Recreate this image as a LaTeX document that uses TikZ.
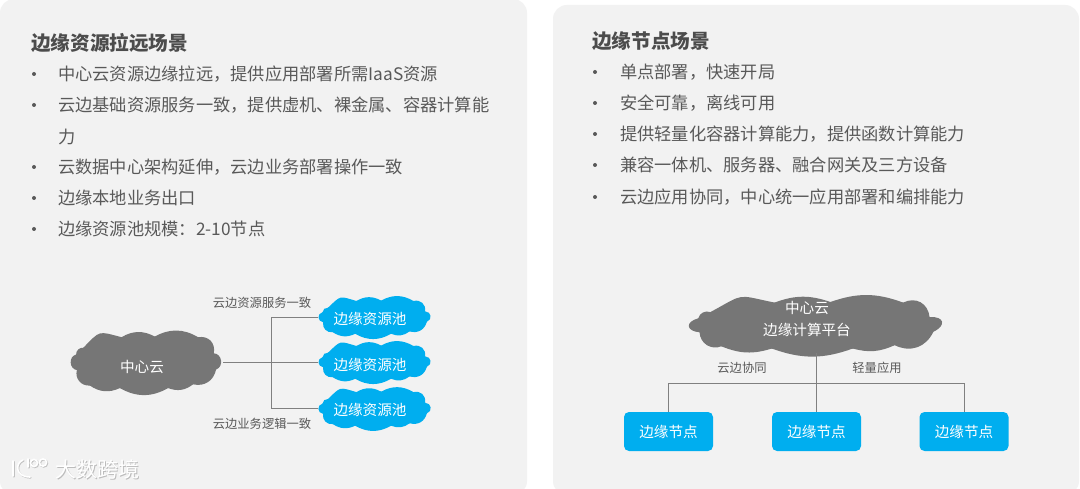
\documentclass[tikz,border=0pt]{standalone}
\usepackage{fontspec}
\setmainfont{Noto Sans CJK SC}
\definecolor{panel}{HTML}{F2F2F2}
\definecolor{bodytext}{HTML}{595959}
\definecolor{cloudgray}{HTML}{767676}
\definecolor{skyb}{HTML}{00AEEF}
\definecolor{wire}{HTML}{808080}
\tikzset{
  x=1pt,y=-1pt,
  panelbox/.style={fill=panel,draw=none,rounded corners=14pt},
  headtext/.style={anchor=west,inner sep=0,font=\fontsize{19.6}{20}\selectfont\bfseries,text=bodytext!85!black},
  itemtext/.style={anchor=west,inner sep=0,font=\fontsize{17.25}{17}\selectfont,text=bodytext},
  dotmark/.style={circle,fill=bodytext,inner sep=0,minimum size=4pt},
  smalltext/.style={inner sep=0,font=\fontsize{12.3}{13}\selectfont,text=bodytext},
  cloudtext/.style={inner sep=0,align=center,text=white,font=\fontsize{14.6}{22}\selectfont},
  cloudanchor/.style={rectangle,inner sep=0,draw=none,fill=none},
  edgebox/.style={rectangle,rounded corners=5pt,fill=skyb,text=white,inner sep=0,minimum width=89pt,minimum height=39pt,font=\fontsize{14.6}{15}\selectfont},
  wireline/.style={draw=wire,line width=0.9pt},
  markshadow/.style={inner sep=0,font=\fontsize{21}{21}\selectfont,text=black,opacity=0.22},
  marktext/.style={inner sep=0,font=\fontsize{21}{21}\selectfont,text=white},
  logostroke/.style={line width=1.6pt,line cap=round,fill=none},
}
% #1 colour, #2 left, #3 top, #4 width, #5 height, #6 node name, #7 lobe bend, #8 side looseness
\newcommand{\cloudblob}[8]{%
  \begin{scope}[shift={(#2,#3)},x=#4pt,y=-#5pt]
    \fill[#1] (.087,.27) to[bend left=#7,looseness=1.6] (.337,.1) to[bend left=#7] (.554,.09)
      to[bend left=#7] (.837,.1) to[bend left=55,looseness=1.2] (.94,.36) to[bend left=80,looseness=#8] (.955,.62)
      to[bend left=45,looseness=1.1] (.804,.86) to[bend left=#7] (.641,.92) to[bend left=#7] (.326,.92)
      to[bend left=#7] (.13,.88) to[bend left=55,looseness=1.1] (.045,.63) to[bend left=80,looseness=#8] (.04,.38)
      to[bend left=50] cycle;
    \fill[#1] (.087,.27) -- (.337,.1) -- (.554,.09) -- (.837,.1) -- (.94,.36)
      -- (.955,.62) -- (.804,.86) -- (.641,.92) -- (.326,.92) -- (.13,.88)
      -- (.045,.63) -- (.04,.38) -- cycle;
    \node[cloudanchor,minimum width=#4pt,minimum height=#5pt] (#6) at (.5,.5) {};
  \end{scope}}
% the hand-drawn logo of the watermark
\newcommand{\logomark}[1]{%
  \draw[logostroke,#1] (13,461) -- (13,476);
  \draw[logostroke,#1] (23,460) .. controls (15,463) and (15,477) .. (30,477);
  \draw[logostroke,#1] (28,459) -- (28,467);
  \draw[logostroke,#1] (34,463) circle (3.6pt);
  \draw[logostroke,#1] (43,462.5) circle (3.6pt);
}
\begin{document}
\begin{tikzpicture}
\useasboundingbox (0,0) rectangle (1080,489);
\fill[white] (0,0) rectangle (1080,489);
\path[panelbox] (0,-1) rectangle (527,495);
\path[panelbox] (553,5) rectangle (1079,495);

% left text
\node[headtext] (lh) at (31,43) {边缘资源拉远场景};
\foreach \n/\y/\t in {1/74/中心云资源边缘拉远，提供应用部署所需IaaS资源,
  2/105/云边基础资源服务一致，提供虚机、裸金属、容器计算能,
  4/167/云数据中心架构延伸，云边业务部署操作一致,
  5/198/边缘本地业务出口,
  6/229/边缘资源池规模：2-10节点}{
  \node[dotmark] (ld\n) at (34,\y) {};
  \node[itemtext] (lt\n) at (58,\y) {\t};
}
\node[itemtext] (lt3) at (58,137) {力};

% right text
\node[headtext] (rh) at (592,41) {边缘节点场景};
\foreach \n/\y/\t in {1/72/单点部署，快速开局,
  2/103/安全可靠，离线可用,
  3/134/提供轻量化容器计算能力，提供函数计算能力,
  4/165/兼容一体机、服务器、融合网关及三方设备,
  5/197/云边应用协同，中心统一应用部署和编排能力}{
  \node[dotmark] (rd\n) at (595,\y) {};
  \node[itemtext] (rt\n) at (620,\y) {\t};
}

% left diagram
\cloudblob{cloudgray}{70}{331}{153}{62}{cc}{30}{1.3}
\node[cloudtext] (cct) at (142,367) {中心云};
\cloudblob{skyb}{318}{297}{114}{40}{p1}{30}{1.5}
\cloudblob{skyb}{318}{342}{114}{40}{p2}{30}{1.5}
\cloudblob{skyb}{318}{388}{114}{41}{p3}{30}{1.5}
\node[cloudtext] (p1t) at (370,319) {边缘资源池};
\node[cloudtext] (p2t) at (370,365) {边缘资源池};
\node[cloudtext] (p3t) at (370,410) {边缘资源池};
\coordinate (j) at (271,362);
\draw[wireline] (cc.east) -- (j);
\draw[wireline] (j) |- (p1.west);
\draw[wireline] (j) -- (p2.west);
\draw[wireline] (j) |- (p3.west);
\node[smalltext] (ll1) at (262,303) {云边资源服务一致};
\node[smalltext] (ll2) at (262,424) {云边业务逻辑一致};

% right diagram
\cloudblob{cloudgray}{688}{297}{257}{56}{rc}{20}{2.5}
\node[cloudtext] (rct) at (807,319) {中心云\\边缘计算平台};
\node[edgebox] (b1) at (668.5,431.5) {边缘节点};
\node[edgebox] (b2) at (816.5,431.5) {边缘节点};
\node[edgebox] (b3) at (964,431.5) {边缘节点};
\coordinate (k) at (816.5,383);
\draw[wireline] (rc.south) -- (k);
\draw[wireline] (k) -- (b2.north);
\draw[wireline] (k) -| (b1.north);
\draw[wireline] (k) -| (b3.north);
\node[smalltext] (rl1) at (742,368) {云边协同};
\node[smalltext] (rl2) at (877,368) {轻量应用};

% watermark
\node[markshadow] at (98.5,470) {大数跨境};
\node[marktext] (wm) at (97.5,469) {大数跨境};
\begin{scope}[shift={(0.8,0.8)}]\logomark{draw=black,opacity=0.2}\end{scope}
\logomark{draw=white}
\end{tikzpicture}
\end{document}
